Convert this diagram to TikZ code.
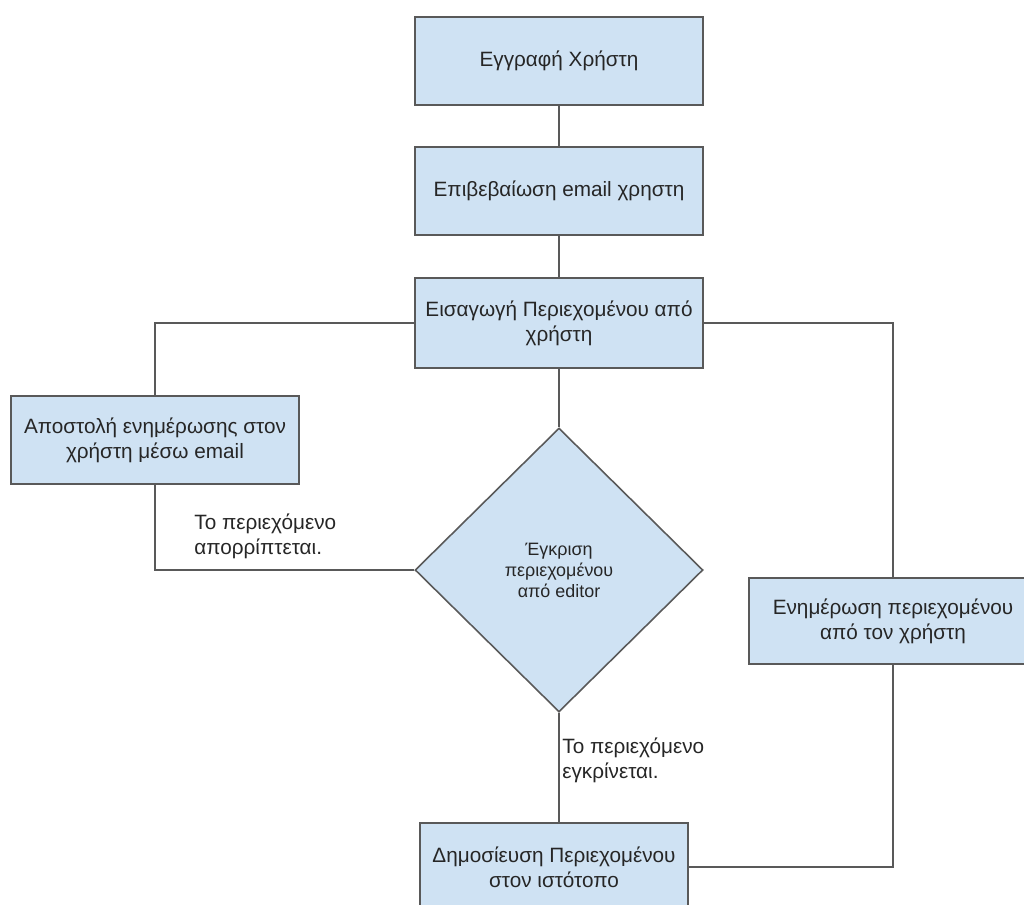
\documentclass[tikz,border=0pt]{standalone}
\usepackage{fontspec}
\setmainfont{Liberation Sans}
\usetikzlibrary{positioning,shapes.geometric}
\definecolor{fBlue}{HTML}{CFE2F3}
\definecolor{fLine}{HTML}{595959}
\definecolor{fText}{HTML}{262626}
\tikzset{
  nd/.style  = {draw=fLine, fill=fBlue, line width=0.9pt, align=center,
                text=fText, font=\fontsize{11.8}{14.4}\selectfont,
                minimum width=5.76cm, minimum height=1.76cm, inner sep=2pt},
  ndd/.style = {nd, diamond, minimum width=5.76cm, minimum height=5.68cm,
                font=\fontsize{10.2}{12}\selectfont},
  ar/.style  = {draw=fLine, line width=0.8pt},
  lbl/.style = {font=\fontsize{11.8}{14.4}\selectfont, text=fText, align=left,
                anchor=west, inner sep=0pt},
}
\begin{document}
\begin{tikzpicture}[x=0.02cm, y=-0.02cm]
  \useasboundingbox (0,0) rectangle (1024,904);
  % main column
  \node[nd] (reg)  at (559,61)  {Εγγραφή Χρήστη};
  \node[nd] (conf) at (559,191) {Επιβεβαίωση email χρηστη};
  \node[nd, minimum height=1.8cm] (ins) at (559,323)
       {Εισαγωγή Περιεχομένου από\\ χρήστη};
  \node[ndd] (appr) at (559,570) {Έγκριση\\ περιεχομένου\\ από editor};
  \node[nd, minimum width=5.36cm] (pub) at (554,867)
       {Δημοσίευση Περιεχομένου\\ στον ιστότοπο};
  % side boxes
  \node[nd] (notif) at (155,440) {Αποστολή ενημέρωσης στον\\ χρήστη μέσω email};
  \node[nd, minimum height=1.72cm] (upd) at (893,621)
       {Ενημέρωση περιεχομένου\\ από τον χρήστη};
  % connectors
  \draw[ar] (reg) -- (conf);
  \draw[ar] (conf) -- (ins);
  \draw[ar] (ins) -- (appr);
  \draw[ar] (appr.south) -- (appr.south |- pub.north);
  \draw[ar] (ins.west) -| (notif.north);
  \draw[ar] (notif.south) |- (appr.west);
  \draw[ar] (ins.east) -| (upd.north);
  \draw[ar] (upd.south) |- (pub.east);
  % labels
  \node[lbl] (rej) at (194,536) {Το περιεχόμενο\\ απορρίπτεται.};
  \node[lbl] (acc) at (562,760) {Το περιεχόμενο\\ εγκρίνεται.};
\end{tikzpicture}
\end{document}
